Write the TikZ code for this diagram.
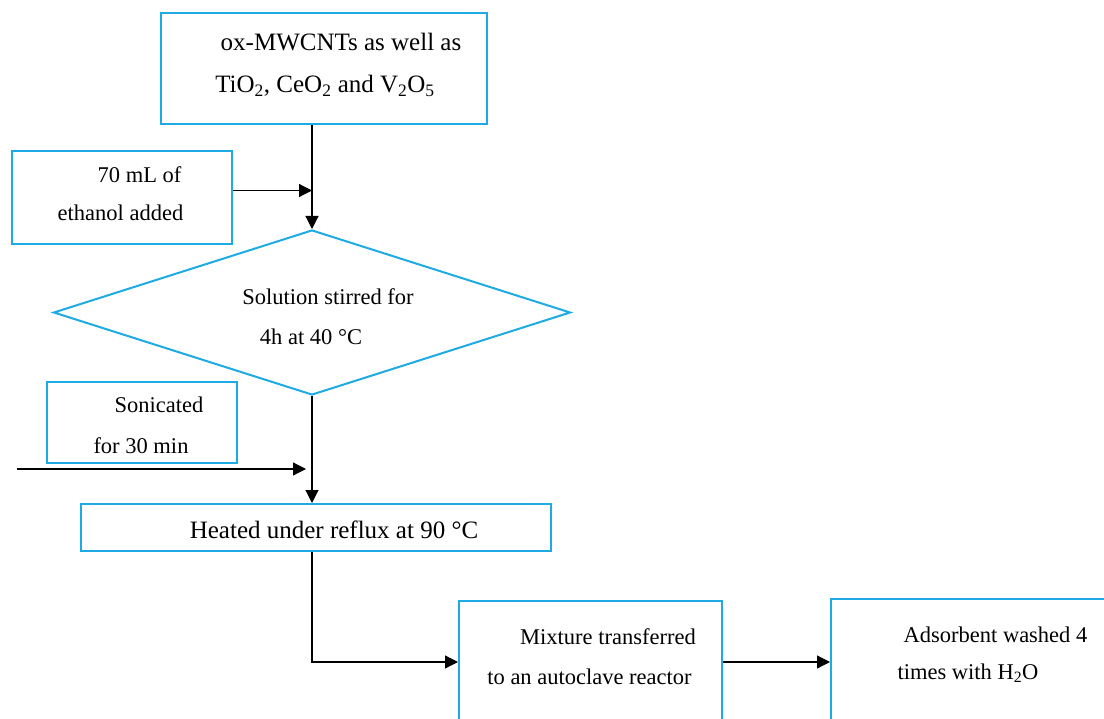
\documentclass[tikz,border=0pt]{standalone}
\usepackage{fontspec}
\setmainfont{Liberation Serif}
\usepackage{tikz}
\usetikzlibrary{arrows.meta,shapes.geometric}
\definecolor{flowblue}{RGB}{30,170,226}

\begin{document}
\begin{tikzpicture}[x=1pt,y=-1pt,
  stepbox/.style={draw=flowblue, line width=2pt, inner sep=0pt, anchor=north west},
  txt/.style={inner sep=0pt, font=\fontsize{22.5}{27}\selectfont},
  bigtxt/.style={inner sep=0pt, font=\fontsize{25}{30}\selectfont},
  arr/.style={-{Triangle[length=13pt,width=13pt]}, line width=1.2pt}]
\useasboundingbox (0,0) rectangle (1104,719);
\clip (0,0) rectangle (1104,719);
\node[stepbox, minimum width=326pt, minimum height=111pt] (oxides) at (160,12) {};
\node[stepbox, minimum width=220pt, minimum height=93pt] (ethanol) at (11,150) {};
\node[draw=flowblue, line width=2pt, inner sep=0pt, diamond, minimum width=517pt, minimum height=165pt] (stirred) at (312,312.5) {};
\node[stepbox, minimum width=190pt, minimum height=81pt] (sonicated) at (46,381) {};
\node[stepbox, minimum width=470pt, minimum height=47pt] (reflux) at (80,503) {};
\node[stepbox, minimum width=263pt, minimum height=122pt] (autoclave) at (458,600) {};
\node[stepbox, minimum width=300pt, minimum height=126pt] (washed) at (830,598) {};
\coordinate (sonicIn) at (17,469);

\node[bigtxt] (oxidesA) at (341,42) {ox-MWCNTs as well as};
\node[bigtxt] (oxidesB) at (325,86) {TiO\textsubscript{2}, CeO\textsubscript{2} and V\textsubscript{2}O\textsubscript{5}};
\node[txt] (ethanolA) at (139.5,175) {70 mL of};
\node[txt] (ethanolB) at (120.5,213) {ethanol added};
\node[txt] (stirredA) at (328,297) {Solution stirred for};
\node[txt] (stirredB) at (311,337) {4h at 40 °C};
\node[txt] (sonicatedA) at (159,405) {Sonicated};
\node[txt] (sonicatedB) at (141,446) {for 30 min};
\node[bigtxt] (refluxA) at (334,530) {Heated under reflux at 90 °C};
\node[txt] (autoclaveA) at (608,637) {Mixture transferred};
\node[txt] (autoclaveB) at (589.5,677) {to an autoclave reactor};
\node[txt] (washedA) at (995.5,635) {Adsorbent washed 4};
\node[txt] (washedB) at (968,673) {times with H\textsubscript{2}O};

\draw[arr] (stirred.north |- oxides.south) -- (stirred.north);
\draw[arr] ([yshift=7pt]ethanol.east) -- ([yshift=7pt]ethanol.east -| stirred.north);
\draw[arr] (sonicIn) -- ([xshift=-6pt]sonicIn -| stirred.south);
\draw[arr] (stirred.south) -- (stirred.south |- reflux.north);
\draw[arr] (stirred.south |- reflux.south) |- (autoclave.west);
\draw[arr] (autoclave.east) -- (washed.west);
\end{tikzpicture}
\end{document}
